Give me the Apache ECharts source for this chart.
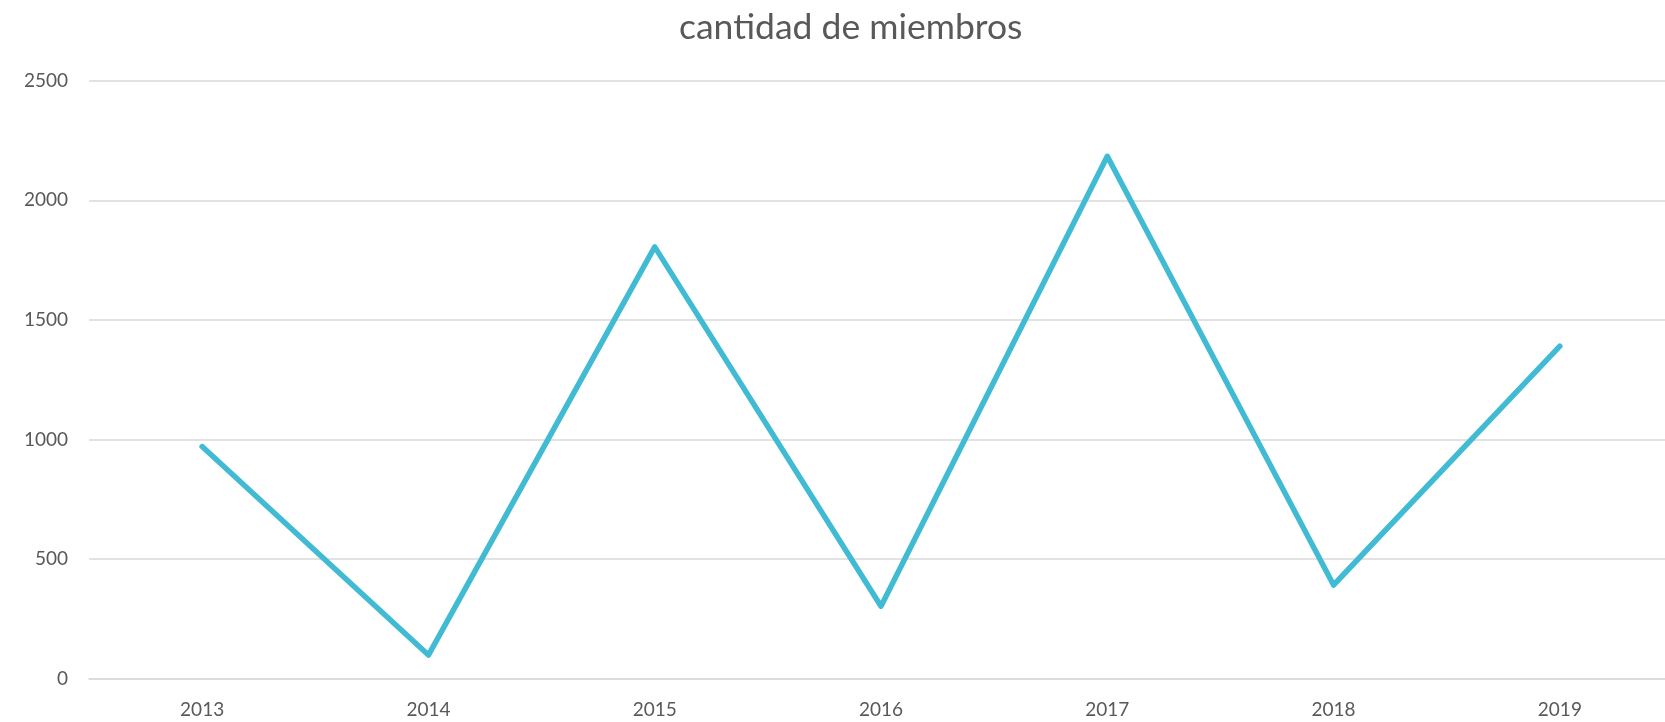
<!DOCTYPE html>
<html>
<head>
<meta charset="utf-8">
<script src="https://cdn.jsdelivr.net/npm/echarts@6/dist/echarts.min.js"></script>
<style>
  html, body { margin: 0; padding: 0; background: #fff; }
  #chart { width: 1665px; height: 722px; }
</style>
</head>
<body>
<div id="chart"></div>
<script>
// datos
var years = ['2013', '2014', '2015', '2016', '2017', '2018', '2019'];
var miembros = [970, 98, 1805, 302, 2184, 391, 1390];
var yTicks = { min: 0, max: 2500, interval: 500 };

var chart = echarts.init(document.getElementById('chart'));
var font = 'Lato, "Open Sans", sans-serif';

chart.setOption({
  animation: false,
  title: {
    text: 'cantidad de miembros',
    left: 674,
    top: 5,
    textStyle: { fontFamily: font, fontSize: 35.5, fontWeight: 'normal', color: '#595959' }
  },
  grid: { left: 89, top: 80.7, width: 1584, height: 597.8, containLabel: false, outerBoundsMode: 'none' },
  xAxis: {
    type: 'category',
    data: years,
    boundaryGap: true,
    axisLine: { lineStyle: { color: '#d9d9d9', width: 1.5 } },
    axisTick: { show: false },
    axisLabel: { color: '#595959', fontFamily: font, fontSize: 19, margin: 22 }
  },
  yAxis: {
    type: 'value',
    min: yTicks.min,
    max: yTicks.max,
    interval: yTicks.interval,
    axisLine: { show: false },
    axisTick: { show: false },
    splitLine: { lineStyle: { color: '#d9d9d9', width: 1.5 } },
    axisLabel: {
      color: '#595959', fontFamily: font, fontSize: 19, margin: 21,
      formatter: function (v) { return String(v); }
    }
  },
  series: [{
    name: 'cantidad de miembros',
    type: 'line',
    data: miembros,
    symbol: 'none',
    lineStyle: { color: '#41bbd4', width: 5.5, cap: 'round', join: 'round' }
  }]
});
</script>
</body>
</html>
